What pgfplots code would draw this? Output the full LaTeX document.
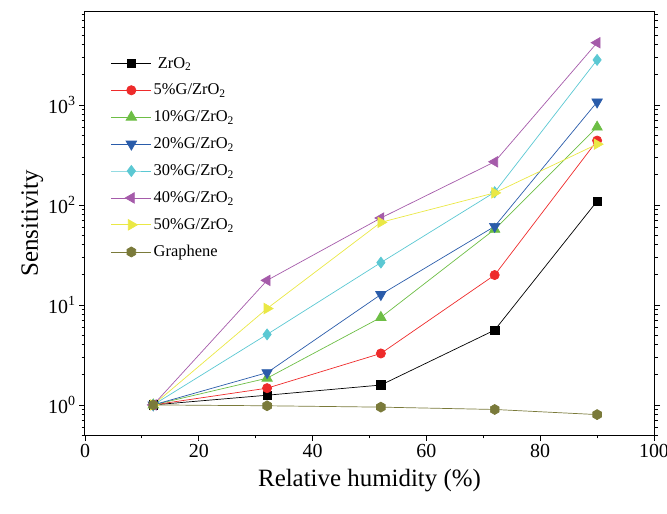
\documentclass[border=0pt]{standalone}
\usepackage{fontspec}
\setmainfont{Liberation Serif}
\usepackage{pgfplots}
\pgfplotsset{compat=1.18}

\definecolor{cZr}{HTML}{000000}
\definecolor{cFive}{HTML}{EE2B2B}
\definecolor{cTen}{HTML}{6DBE45}
\definecolor{cTwenty}{HTML}{2A5CAA}
\definecolor{cThirty}{HTML}{5BC8D3}
\definecolor{cForty}{HTML}{A55BAA}
\definecolor{cFifty}{HTML}{EAE845}
\definecolor{cGr}{HTML}{7A7A3A}

% filled hexagon marker for the graphene series
\pgfdeclareplotmark{hexagon}{%
  \pgfpathmoveto{\pgfqpointpolar{90}{\pgfplotmarksize}}%
  \pgfpathlineto{\pgfqpointpolar{150}{\pgfplotmarksize}}%
  \pgfpathlineto{\pgfqpointpolar{210}{\pgfplotmarksize}}%
  \pgfpathlineto{\pgfqpointpolar{270}{\pgfplotmarksize}}%
  \pgfpathlineto{\pgfqpointpolar{330}{\pgfplotmarksize}}%
  \pgfpathlineto{\pgfqpointpolar{30}{\pgfplotmarksize}}%
  \pgfpathclose
  \pgfusepathqfillstroke}

\begin{document}
\begin{tikzpicture}
\begin{axis}[
  scale only axis,
  width=569bp, height=423.5bp,
  ymode=log,
  xmin=0, xmax=100, ymin=0.5, ymax=8600,
  xtick={0,20,...,100},
  minor xtick={10,30,...,90},
  ytick={1,10,100,1000},
  minor ytick={0.5,0.6,0.7,0.8,0.9,2,3,4,5,6,7,8,9,20,30,40,50,60,70,80,90,
               200,300,400,500,600,700,800,900,2000,3000,4000,5000,6000,7000,8000},
  yticklabels={10\textsuperscript{0},10\textsuperscript{1},10\textsuperscript{2},10\textsuperscript{3}},
  xtick pos=bottom,
  ytick pos=both,
  tick align=outside,
  major tick length=6bp, minor tick length=3.5bp,
  every tick/.style={black, line width=0.8bp},
  axis line style={line width=1bp},
  /pgf/number format/assume math mode=true,
  tick label style={font=\fontsize{20}{22}\selectfont},
  xlabel={Relative humidity (\%)},
  ylabel={Sensitivity},
  label style={font=\fontsize{25}{28}\selectfont},
  xlabel style={yshift=-4bp},
  ylabel style={yshift=-2bp},
  legend style={draw=none, fill=none, at={(0.04,0.902)}, anchor=north west,
    font=\fontsize{16.5}{18}\selectfont, row sep=10.5bp,
    legend cell align=left},
  legend image code/.code={%
    \draw[mark repeat=2,mark phase=2,line width=0.8bp]
      plot coordinates {(0bp,0bp) (20bp,0bp) (40bp,0bp)};},
  every axis plot/.append style={line width=0.7bp},
]
\addplot[color=cZr, mark=square*, mark size=4.2bp, mark options={fill=cZr}]
  coordinates {(12,1) (32,1.25) (52,1.58) (72,5.6) (90,109)};
\addlegendentry{\ ZrO\textsubscript{2}}
\addplot[color=cFive, mark=*, mark size=4.6bp, mark options={fill=cFive}]
  coordinates {(12,1) (32,1.47) (52,3.27) (72,19.9) (90,440)};
\addlegendentry{5\%G/ZrO\textsubscript{2}}
\addplot[color=cTen, mark=triangle*, mark size=6bp, mark options={fill=cTen}]
  coordinates {(12,1) (32,1.85) (52,7.5) (72,57) (90,600)};
\addlegendentry{10\%G/ZrO\textsubscript{2}}
\addplot[color=cTwenty, mark=triangle*, mark size=6bp, mark options={fill=cTwenty, rotate=180}]
  coordinates {(12,1) (32,2.1) (52,12.7) (72,61) (90,1070)};
\addlegendentry{20\%G/ZrO\textsubscript{2}}
\addplot[color=cThirty, mark=diamond*, mark size=5.5bp, mark options={fill=cThirty}]
  coordinates {(12,1) (32,5.07) (52,26.5) (72,134) (90,2820)};
\addlegendentry{30\%G/ZrO\textsubscript{2}}
\addplot[color=cForty, mark=triangle*, mark size=6bp, mark options={fill=cForty, rotate=90}]
  coordinates {(12,1) (32,17.6) (52,74) (72,270) (90,4190)};
\addlegendentry{40\%G/ZrO\textsubscript{2}}
\addplot[color=cFifty, mark=triangle*, mark size=6bp, mark options={fill=cFifty, rotate=-90}]
  coordinates {(12,1) (32,9.2) (52,67) (72,132) (90,405)};
\addlegendentry{50\%G/ZrO\textsubscript{2}}
\addplot[color=cGr, mark=hexagon, mark size=5bp, mark options={fill=cGr}]
  coordinates {(12,1) (32,0.98) (52,0.95) (72,0.90) (90,0.80)};
\addlegendentry{Graphene}
\end{axis}
\pgfresetboundingbox
\useasboundingbox (-85bp,-79bp) rectangle (582bp,435bp);
\end{tikzpicture}
\end{document}
